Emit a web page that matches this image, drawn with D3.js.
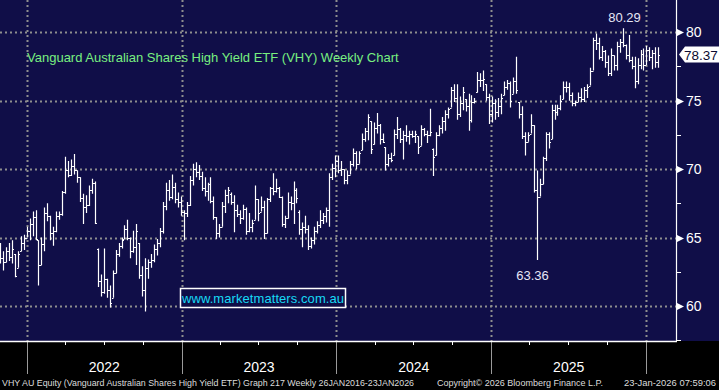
<!DOCTYPE html>
<html>
<head>
<meta charset="utf-8">
<script src="https://cdn.jsdelivr.net/npm/d3@7"></script>
<style>
    html, body { margin: 0; padding: 0; background: #000; }
    svg { display: block; }
    text { font-family: "Liberation Sans", Arial, sans-serif; }
</style>
</head>
<body>
<div id="ohlc_chart"></div>
<script>
// weekly bars, first one is week ending 22 Oct 2021
const firstWeek = "2021-10-22";

const opens = [
    64.2, 63.5, 63.2, 64.0, 63.6, 63.8, 62.8, 64.0, 64.6, 65.0,
    65.5, 66.0, 66.5, 64.8, 63.0, 64.5, 66.8, 66.6, 65.3, 65.5,
    66.6, 66.7, 68.3, 69.9, 69.6, 70.2, 69.9, 69.4, 67.9, 67.2,
    67.4, 68.5, 69.0, 64.2, 61.8, 61.0, 62.0, 61.2, 60.6, 62.4,
    63.8, 64.4, 64.9, 65.6, 65.0, 64.0, 64.3, 64.6, 62.3, 61.2,
    62.8, 63.2, 63.4, 64.2, 64.6, 65.5, 67.3, 68.5, 68.0, 68.7,
    67.8, 67.6, 66.9, 66.8, 67.4, 69.2, 70.0, 69.8, 69.5, 68.6,
    68.4, 68.9, 67.7, 66.5, 65.3, 65.8, 67.3, 68.1, 68.2, 67.6,
    67.0, 66.7, 66.4, 67.1, 65.5, 65.8, 66.3, 67.8, 66.9, 67.2,
    65.3, 67.8, 68.6, 68.4, 68.6, 68.0, 66.0, 66.4, 67.6, 67.5,
    68.5, 66.9, 65.6, 65.8, 65.6, 64.4, 64.8, 65.5, 65.9, 66.3,
    66.6, 67.0, 69.4, 70.1, 70.6, 69.9, 70.0, 69.2, 69.6, 70.4,
    71.2, 70.4, 71.4, 72.2, 72.8, 73.5, 71.8, 73.0, 73.2, 72.2,
    71.6, 70.4, 70.8, 71.0, 72.6, 72.9, 72.2, 72.5, 72.4, 72.6,
    72.4, 72.4, 71.7, 72.9, 72.6, 72.5, 71.5, 71.0, 72.5, 73.0,
    73.5, 74.0, 74.5, 75.8, 75.2, 74.0, 74.8, 75.1, 74.6, 73.6,
    74.9, 75.6, 76.5, 76.5, 76.2, 75.3, 74.0, 74.8, 74.2, 74.6,
    75.4, 76.0, 76.3, 75.5, 76.4, 74.9, 74.0, 72.4, 72.0, 72.6,
    73.2, 68.5, 68.0, 68.9, 70.8, 72.6, 72.2, 74.3, 74.2, 74.5,
    75.1, 76.0, 76.0, 75.4, 74.8, 74.9, 75.3, 75.1, 75.8, 76.1,
    77.2, 79.4, 79.2, 78.2, 78.6, 77.8, 77.0, 78.3, 77.6, 79.0,
    79.3, 79.1, 78.3, 78.0, 77.5, 76.4, 77.6, 78.4, 77.6, 78.7,
    78.2, 78.5, 77.8
];

const highs = [
    64.6, 64.0, 64.3, 64.6, 64.8, 63.8, 64.0, 65.1, 65.2, 65.8,
    66.4, 66.9, 67.0, 64.8, 65.0, 67.2, 67.5, 66.6, 65.8, 66.9,
    66.9, 68.4, 70.9, 70.6, 70.7, 71.1, 69.9, 69.4, 68.2, 68.1,
    68.8, 69.3, 69.1, 64.2, 62.3, 64.2, 62.0, 61.5, 62.6, 64.1,
    64.6, 65.0, 65.9, 66.3, 65.0, 65.5, 66.0, 64.6, 62.9, 63.5,
    63.4, 63.8, 64.5, 64.9, 65.7, 67.6, 69.0, 69.2, 69.6, 69.0,
    68.3, 68.0, 67.0, 67.6, 69.5, 70.4, 70.5, 70.3, 69.8, 69.4,
    69.0, 69.4, 68.0, 66.5, 66.0, 67.6, 68.5, 68.7, 68.3, 68.1,
    67.4, 67.0, 67.4, 67.2, 66.8, 66.3, 68.8, 67.8, 68.0, 67.7,
    67.9, 68.7, 69.7, 69.3, 68.7, 68.0, 66.6, 68.3, 68.0, 69.1,
    68.6, 67.0, 66.1, 66.6, 65.9, 65.0, 65.8, 66.2, 67.0, 66.8,
    67.2, 69.7, 70.4, 71.0, 71.0, 70.6, 70.0, 69.9, 70.6, 71.5,
    71.3, 71.3, 72.6, 73.0, 74.0, 73.5, 73.4, 74.1, 73.3, 72.6,
    71.6, 71.1, 71.2, 72.9, 73.8, 73.0, 72.8, 73.2, 72.8, 72.8,
    72.8, 72.4, 73.2, 73.0, 72.8, 74.4, 71.5, 72.7, 73.2, 73.8,
    74.3, 74.5, 76.0, 76.2, 76.2, 75.3, 76.0, 75.1, 75.5, 75.4,
    75.2, 77.1, 77.0, 77.2, 76.2, 75.5, 75.3, 75.1, 75.2, 75.5,
    76.4, 76.5, 76.4, 76.7, 78.2, 74.9, 74.6, 72.7, 72.7, 74.0,
    73.2, 69.9, 69.3, 70.9, 72.7, 72.7, 74.7, 74.7, 74.7, 75.4,
    76.4, 76.4, 76.3, 75.6, 75.0, 75.6, 75.9, 76.0, 76.2, 77.4,
    79.6, 79.9, 79.6, 79.0, 78.7, 78.3, 78.8, 78.3, 79.3, 79.5,
    80.29, 79.1, 79.8, 78.2, 78.2, 78.1, 78.7, 78.8, 79.0, 78.9,
    78.7, 78.9, 78.9
];

const lows = [
    63.1, 62.6, 63.2, 63.3, 63.1, 62.1, 62.8, 64.0, 64.1, 65.0,
    64.8, 65.1, 64.8, 61.5, 63.0, 64.0, 66.2, 64.8, 64.4, 65.4,
    66.3, 66.6, 68.2, 69.4, 69.5, 69.6, 69.0, 67.6, 66.0, 66.8,
    67.3, 68.2, 66.0, 61.4, 60.7, 60.9, 60.6, 59.9, 60.6, 62.4,
    63.6, 64.2, 64.9, 64.8, 63.5, 63.9, 63.0, 62.0, 60.7, 59.6,
    62.0, 62.8, 63.2, 63.7, 64.3, 65.3, 67.0, 67.7, 67.8, 67.5,
    67.2, 66.6, 64.8, 66.5, 67.3, 68.8, 69.4, 69.2, 68.4, 68.0,
    67.7, 67.5, 66.3, 64.9, 65.0, 65.8, 66.8, 67.5, 67.4, 65.4,
    66.5, 66.0, 66.3, 65.2, 65.4, 65.4, 66.3, 66.2, 66.9, 64.9,
    65.3, 67.6, 68.1, 68.3, 67.9, 65.8, 65.7, 66.4, 67.0, 66.0,
    67.5, 65.2, 64.3, 65.3, 64.1, 64.2, 64.5, 65.3, 65.7, 66.0,
    66.1, 65.8, 69.2, 69.4, 69.7, 69.5, 68.9, 68.9, 69.6, 70.2,
    70.0, 70.4, 71.4, 72.0, 72.1, 71.1, 71.8, 72.6, 71.8, 71.9,
    69.9, 70.2, 70.5, 71.0, 72.2, 71.9, 70.7, 72.0, 71.8, 72.3,
    71.9, 71.1, 71.7, 72.4, 71.9, 72.4, 69.5, 71.0, 72.4, 72.6,
    72.8, 73.7, 74.5, 74.9, 73.6, 73.8, 74.3, 74.2, 72.8, 73.4,
    74.8, 75.6, 76.0, 75.7, 75.0, 73.3, 73.4, 73.6, 73.8, 74.0,
    75.4, 75.8, 74.5, 75.5, 75.5, 73.7, 72.2, 71.0, 72.0, 72.6,
    68.3, 63.36, 68.0, 68.9, 70.6, 71.5, 72.2, 73.6, 73.9, 74.3,
    75.1, 75.6, 75.0, 74.6, 74.6, 74.9, 74.9, 74.9, 75.2, 76.1,
    77.2, 78.7, 78.0, 77.9, 77.4, 76.8, 76.8, 77.2, 77.2, 78.5,
    78.9, 78.0, 77.8, 77.3, 75.9, 76.2, 77.3, 77.2, 77.6, 77.9,
    77.3, 77.4, 77.4
];

const closes = [
    63.5, 63.2, 64.0, 63.6, 64.2, 62.2, 63.8, 64.6, 65.0, 65.5,
    66.0, 66.5, 64.9, 63.0, 64.5, 66.8, 66.6, 65.3, 65.5, 66.6,
    66.7, 68.3, 69.9, 69.6, 70.2, 69.9, 69.4, 67.9, 67.2, 67.4,
    68.5, 69.0, 66.1, 61.8, 61.0, 62.0, 61.2, 60.2, 62.4, 63.8,
    64.4, 64.8, 65.6, 65.0, 64.0, 64.3, 65.5, 62.3, 61.2, 62.8,
    63.2, 63.4, 64.2, 64.6, 65.5, 67.3, 68.5, 68.0, 68.7, 67.8,
    67.6, 66.9, 66.8, 67.4, 69.2, 70.0, 69.8, 69.5, 68.6, 68.4,
    68.9, 67.7, 66.5, 65.3, 65.8, 67.3, 68.1, 68.5, 67.6, 67.0,
    66.7, 66.4, 67.1, 65.5, 65.8, 66.1, 67.8, 66.8, 67.2, 65.3,
    67.8, 68.6, 68.4, 68.6, 68.0, 66.0, 66.4, 67.6, 67.5, 68.5,
    67.9, 65.6, 65.8, 65.6, 64.4, 64.8, 65.5, 65.9, 66.3, 66.6,
    67.0, 69.4, 70.1, 70.6, 69.9, 70.0, 69.2, 69.6, 70.4, 71.2,
    70.4, 71.2, 72.2, 72.8, 73.8, 71.5, 73.0, 73.2, 72.2, 72.0,
    70.4, 70.8, 70.7, 72.6, 72.9, 72.2, 72.5, 72.4, 72.6, 72.4,
    72.6, 71.6, 72.9, 72.6, 72.5, 72.7, 70.9, 72.5, 73.0, 73.5,
    74.0, 74.4, 75.8, 75.2, 74.0, 74.8, 75.6, 74.6, 73.6, 74.9,
    75.0, 76.5, 76.5, 76.6, 75.3, 74.0, 74.8, 74.2, 74.6, 75.2,
    76.0, 76.3, 75.0, 76.4, 75.8, 74.0, 72.4, 72.0, 72.5, 73.2,
    68.5, 68.0, 68.9, 70.8, 72.6, 72.0, 74.3, 74.2, 74.5, 75.0,
    76.0, 76.0, 75.4, 74.8, 74.9, 75.3, 75.1, 75.8, 76.0, 77.2,
    79.4, 79.2, 78.2, 78.6, 77.8, 77.0, 78.3, 77.6, 79.0, 79.3,
    79.1, 78.3, 78.0, 77.5, 76.4, 77.6, 78.4, 77.6, 78.7, 78.2,
    78.5, 77.8, 78.37
];

const yTicks = [60, 65, 70, 75, 80];
const yMinorTicks = [57.5, 62.5, 67.5, 72.5, 77.5];
const yearStarts = ["2022-01-01", "2023-01-01", "2024-01-01", "2025-01-01", "2026-01-01"];
const yearLabels = ["2022", "2023", "2024", "2025"];
// the high/low notes only look at the last year of bars
const noteWindowStart = "2025-01-01";

const titleText = "Vanguard Australian Shares High Yield ETF (VHY) Weekly Chart";
const watermark = "www.marketmatters.com.au";
const footerLeft = "VHY AU Equity (Vanguard Australian Shares High Yield ETF) Graph 217 Weekly 26JAN2016-23JAN2026";
const footerMid = "Copyright\u00a9 2026 Bloomberg Finance L.P.";
const footerRight = "23-Jan-2026 07:59:06";

let dimensions = {
    width: 719,
    height: 390,
    plotRight: 676,
    plotBottom: 341,
}

const navy = "#100e48";
const gridGrey = "#8e8e8e";
const parseDate = d3.timeParse("%Y-%m-%d");

const weeks = opens.map((o, i) => ({
    date: d3.timeDay.offset(parseDate(firstWeek), 7 * i),
    open: o,
    high: highs[i],
    low: lows[i],
    close: closes[i],
}));

const svg = d3.select("#ohlc_chart")
    .append("svg")
    .attr("width", dimensions.width)
    .attr("height", dimensions.height);

// backgrounds
svg.append("rect")
    .attr("width", dimensions.width).attr("height", dimensions.height)
    .attr("fill", "#000");
svg.append("rect")
    .attr("width", dimensions.width).attr("height", dimensions.plotBottom)
    .attr("fill", navy);

const x = d3.scaleTime()
    .domain([parseDate(yearStarts[0]), parseDate(yearStarts[4])])
    .range([27, 646]);
const barShift = 3;

const y = d3.scaleLinear()
    .domain([57.45, 82.35])
    .range([dimensions.plotBottom, 0]);

// horizontal dotted grid
svg.append("g")
    .selectAll("line")
    .data(yTicks)
    .join("line")
    .attr("x1", 0).attr("x2", dimensions.plotRight)
    .attr("y1", d => Math.round(y(d)) + 0.5).attr("y2", d => Math.round(y(d)) + 0.5)
    .attr("stroke", gridGrey).attr("stroke-width", 2)
    .attr("stroke-dasharray", "2,3");

// vertical year lines (dotted inside, solid below)
const yearDates = yearStarts.map(parseDate);
svg.append("g")
    .selectAll("line")
    .data(yearDates)
    .join("line")
    .attr("x1", d => Math.round(x(d)) + 0.5).attr("x2", d => Math.round(x(d)) + 0.5)
    .attr("y1", 0).attr("y2", dimensions.plotBottom)
    .attr("stroke", gridGrey).attr("stroke-width", 2)
    .attr("stroke-dasharray", "2,3");
svg.append("g")
    .selectAll("line")
    .data(yearDates)
    .join("line")
    .attr("x1", d => Math.round(x(d)) + 0.5).attr("x2", d => Math.round(x(d)) + 0.5)
    .attr("y1", dimensions.plotBottom).attr("y2", 374)
    .attr("stroke", "#9a9a9a").attr("stroke-width", 1);

// quarter ticks on the bottom axis
const quarters = d3.timeMonth.every(3)
    .range(d3.timeDay.offset(x.invert(0), 1), x.invert(dimensions.plotRight))
    .filter(d => d.getMonth() !== 0);
svg.append("g")
    .selectAll("line")
    .data(quarters)
    .join("line")
    .attr("x1", d => Math.round(x(d)) + 0.5).attr("x2", d => Math.round(x(d)) + 0.5)
    .attr("y1", dimensions.plotBottom).attr("y2", dimensions.plotBottom + 4)
    .attr("stroke", "#fff").attr("stroke-width", 1);

// axis lines
svg.append("line")
    .attr("x1", 0).attr("x2", dimensions.plotRight + 1)
    .attr("y1", dimensions.plotBottom + 0.5).attr("y2", dimensions.plotBottom + 0.5)
    .attr("stroke", "#fff").attr("stroke-width", 1.5);
svg.append("line")
    .attr("x1", dimensions.plotRight + 0.5).attr("x2", dimensions.plotRight + 0.5)
    .attr("y1", 0).attr("y2", dimensions.plotBottom)
    .attr("stroke", "#fff").attr("stroke-width", 1.2);

// right axis markers and labels
const yAxis = svg.append("g");
yAxis.selectAll("path")
    .data(yTicks)
    .join("path")
    .attr("d", d => {
        const yy = Math.round(y(d)) + 0.5;
        return `M${dimensions.plotRight + 1},${yy - 3.5}L${dimensions.plotRight + 8},${yy}L${dimensions.plotRight + 1},${yy + 3.5}Z`;
    })
    .attr("fill", "#fff");
yAxis.selectAll("line")
    .data(yMinorTicks)
    .join("line")
    .attr("x1", dimensions.plotRight).attr("x2", dimensions.plotRight + 5)
    .attr("y1", d => Math.round(y(d)) + 0.5).attr("y2", d => Math.round(y(d)) + 0.5)
    .attr("stroke", "#fff").attr("stroke-width", 1);
yAxis.selectAll("text")
    .data(yTicks)
    .join("text")
    .attr("x", dimensions.plotRight + 10)
    .attr("y", d => y(d) + 5)
    .attr("fill", "#fff")
    .style("font-size", "14px")
    .text(d => d);

// year labels
svg.append("g")
    .selectAll("text")
    .data(yearLabels)
    .join("text")
    .attr("x", (d, i) => (x(yearDates[i]) + x(yearDates[i + 1])) / 2)
    .attr("y", 372)
    .attr("text-anchor", "middle")
    .attr("fill", "#fff")
    .style("font-size", "14px")
    .text(d => d);

// OHLC bars
svg.append("clipPath").attr("id", "plotClip")
    .append("rect")
    .attr("width", dimensions.plotRight).attr("height", dimensions.plotBottom);

const barX = d => Math.round(x(d.date) + barShift) + 0.5;
svg.append("g")
    .attr("clip-path", "url(#plotClip)")
    .selectAll("path")
    .data(weeks)
    .join("path")
    .attr("d", d => {
        const bx = barX(d);
        const yo = Math.round(y(d.open)) + 0.5;
        const yc = Math.round(y(d.close)) + 0.5;
        return `M${bx},${y(d.high)}V${y(d.low)}M${bx - 1.5},${yo}H${bx}M${bx},${yc}H${bx + 1.5}`;
    })
    .attr("fill", "none")
    .attr("stroke", "#fff")
    .attr("stroke-width", 1.2);

// high / low notes over the last year
const recent = weeks.filter(d => d.date >= parseDate(noteWindowStart));
const hiBar = recent[d3.maxIndex(recent, d => d.high)];
const loBar = recent[d3.minIndex(recent, d => d.low)];
svg.append("text")
    .attr("x", barX(hiBar) + 1)
    .attr("y", y(hiBar.high) - 6)
    .attr("text-anchor", "middle")
    .attr("fill", "#e6e6f6")
    .style("font-size", "13px")
    .text(d3.format(".2f")(hiBar.high));
svg.append("text")
    .attr("x", barX(loBar) - 5)
    .attr("y", y(loBar.low) + 20)
    .attr("text-anchor", "middle")
    .attr("fill", "#e6e6f6")
    .style("font-size", "13px")
    .text(d3.format(".2f")(loBar.low));

// last price tag
const last = weeks[weeks.length - 1];
const ly = y(last.close);
svg.append("path")
    .attr("d", `M${dimensions.plotRight + 3},${ly}L${dimensions.plotRight + 9},${ly - 8}H${dimensions.width}V${ly + 8}H${dimensions.plotRight + 9}Z`)
    .attr("fill", "#fff");
svg.append("text")
    .attr("x", dimensions.plotRight + 25)
    .attr("y", ly + 5)
    .attr("text-anchor", "middle")
    .attr("fill", "#0b0b30")
    .style("font-size", "13.5px")
    .text(d3.format(".2f")(last.close));

// title
svg.append("text")
    .attr("x", 27)
    .attr("y", 61.5)
    .attr("fill", "#78ef80")
    .style("font-size", "13px")
    .text(titleText);

// watermark box
svg.append("rect")
    .attr("x", 180.5).attr("y", 288.5)
    .attr("width", 165).attr("height", 19)
    .attr("fill", navy)
    .attr("stroke", "#fff").attr("stroke-width", 1.5);
svg.append("text")
    .attr("x", 182)
    .attr("y", 303)
    .attr("fill", "#17d9f5")
    .style("font-size", "13px")
    .attr("textLength", 162)
    .text(watermark);

// footer
const footer = svg.append("g")
    .attr("fill", "#dcdcdc")
    .style("font-size", "9px");
footer.append("text").attr("x", 2).attr("y", 386)
    .attr("textLength", 412).attr("lengthAdjust", "spacingAndGlyphs").text(footerLeft);
footer.append("text").attr("x", 437).attr("y", 386)
    .attr("textLength", 166).attr("lengthAdjust", "spacingAndGlyphs").text(footerMid);
footer.append("text").attr("x", 624).attr("y", 386)
    .attr("textLength", 92).attr("lengthAdjust", "spacingAndGlyphs").text(footerRight);
</script>
</body>
</html>
